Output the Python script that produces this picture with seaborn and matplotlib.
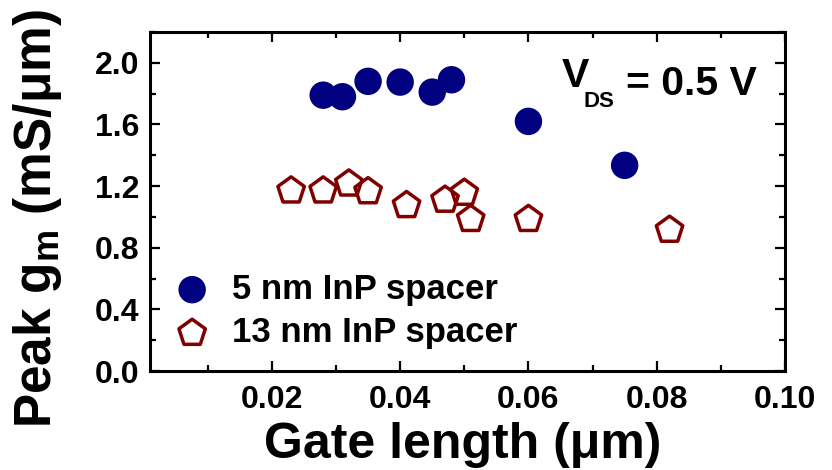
import numpy as np
import matplotlib
matplotlib.use("Agg")
import matplotlib.pyplot as plt
from matplotlib.ticker import MultipleLocator, FixedLocator
import pandas as pd
import seaborn as sns

# data
gate_5nm = [0.028, 0.031, 0.035, 0.040, 0.045, 0.048, 0.060, 0.075]
gm_5nm = [1.79, 1.78, 1.88, 1.875, 1.81, 1.89, 1.62, 1.335]
gate_13nm = [0.023, 0.028, 0.032, 0.035, 0.041, 0.047, 0.050, 0.051, 0.060, 0.082]
gm_13nm = [1.17, 1.17, 1.215, 1.165, 1.075, 1.11, 1.155, 0.985, 0.985, 0.915]
labels = ["5 nm InP spacer", "13 nm InP spacer"]
xticks = [0.02, 0.04, 0.06, 0.08, 0.10]
yticks = [0.0, 0.4, 0.8, 1.2, 1.6, 2.0]

sns.set_style("ticks")
plt.rcParams['font.family'] = ['Liberation Sans', 'DejaVu Sans']
plt.rcParams['font.weight'] = 'bold'
plt.rcParams['text.color'] = 'black'
plt.rcParams['axes.labelcolor'] = 'black'
plt.rcParams['xtick.color'] = 'black'
plt.rcParams['ytick.color'] = 'black'
plt.rcParams['mathtext.fontset'] = 'custom'
plt.rcParams['mathtext.rm'] = 'Liberation Sans:bold'
plt.rcParams['mathtext.it'] = 'Liberation Sans:bold'
plt.rcParams['mathtext.bf'] = 'Liberation Sans:bold'

df5 = pd.DataFrame({"gate": gate_5nm, "gm": gm_5nm})
df13 = pd.DataFrame({"gate": gate_13nm, "gm": gm_13nm})

fig = plt.figure(figsize=(8.32, 4.70), dpi=100)
ax = fig.add_axes([0.1803, 0.2106, 0.7632, 0.7213])

sns.scatterplot(data=df5, x="gate", y="gm", ax=ax, marker="o", s=390,
                color="#000080", edgecolor="none", linewidth=0, label=labels[0])
sns.scatterplot(data=df13, x="gate", y="gm", ax=ax, marker="p", s=400,
                facecolor="none", edgecolor="#800000", linewidth=2.5, label=labels[1])

ax.set_xlim(0.001, 0.1)
ax.set_ylim(0, 2.2)
ax.xaxis.set_major_locator(FixedLocator(xticks))
ax.xaxis.set_minor_locator(MultipleLocator(0.01))
ax.yaxis.set_major_locator(FixedLocator(yticks))
ax.yaxis.set_minor_locator(MultipleLocator(0.2))
ax.set_xticklabels([f"{t:.2f}" for t in xticks])
ax.set_yticklabels([f"{t:.1f}" for t in yticks])

for sp in ax.spines.values():
    sp.set_visible(True)
    sp.set_linewidth(2.2)
    sp.set_color("black")
ax.tick_params(which="both", direction="in", top=True, right=True, width=1.6,
               labelsize=23, colors="black")
ax.tick_params(which="major", length=7.5, pad=8)
ax.tick_params(which="minor", length=4.5)
for lab in ax.get_xticklabels() + ax.get_yticklabels():
    lab.set_fontweight("bold")
ax.tick_params(axis="x", which="major", pad=10)

ax.set_xlabel("Gate length (\u03bcm)", fontsize=36, fontweight="bold")
ax.set_ylabel("Peak g$_\\mathrm{m}$ (mS/\u03bcm)", fontsize=37, fontweight="bold")
ax.xaxis.set_label_coords(0.492, -0.15, transform=ax.transAxes)
ax.xaxis.label.set_va("top")
ax.yaxis.set_label_coords(-0.135, 0.45)

# V_DS annotation built from pieces so the subscript can be small and low
vt = ax.text(0.648, 0.839, "V", transform=ax.transAxes, ha="left", va="baseline",
             fontsize=29.5, fontweight="bold")
ax.annotate("DS", xy=(1, 0), xycoords=vt, xytext=(-4, -9),
            textcoords="offset points", ha="left", va="baseline",
            fontsize=16, fontweight="bold")
ax.annotate("= 0.5 V", xy=(1, 0), xycoords=vt, xytext=(27, 0),
            textcoords="offset points", ha="left", va="baseline",
            fontsize=29.5, fontweight="bold")

leg = ax.legend(loc="center left", bbox_to_anchor=(0.039, 0.177), frameon=False,
                fontsize=25, handlelength=1.0, handletextpad=0.66,
                borderpad=0, borderaxespad=0, labelspacing=0.3)
for t in leg.get_texts():
    t.set_fontweight("bold")

fig.savefig("out.png", dpi=100)
